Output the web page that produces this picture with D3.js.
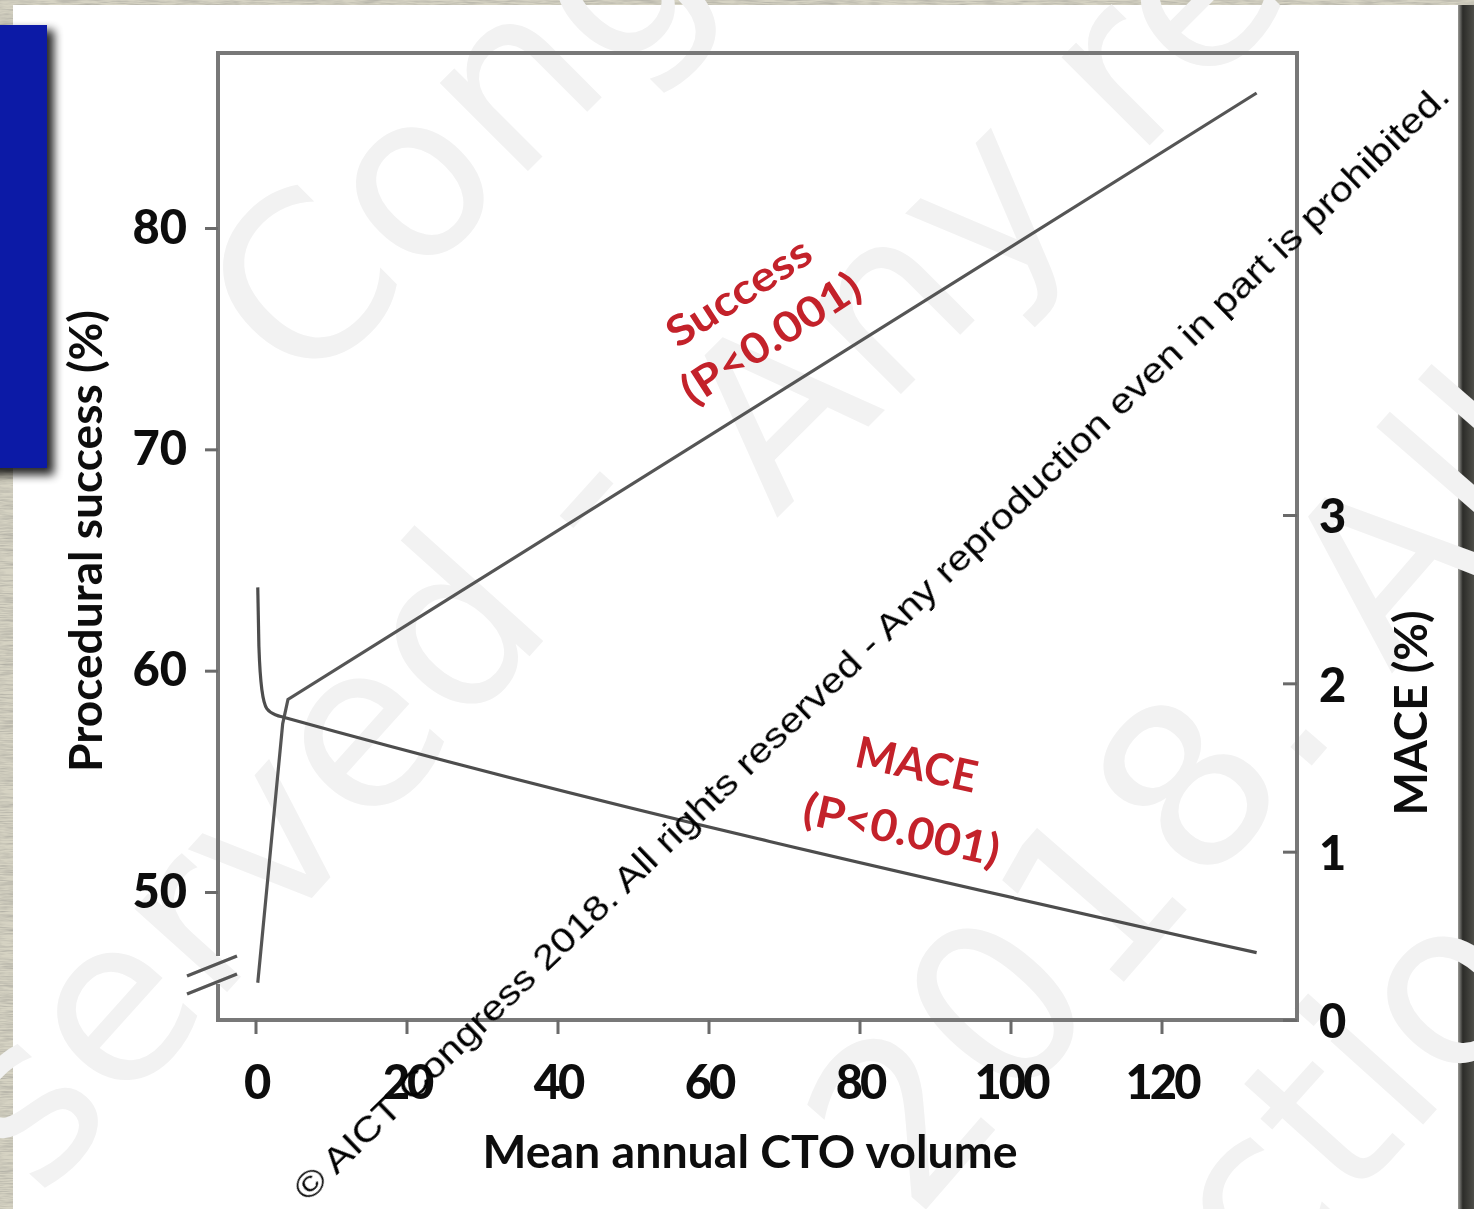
<!DOCTYPE html>
<html><head><meta charset="utf-8">
<script src="https://cdn.jsdelivr.net/npm/d3@7"></script>
<style>html,body{margin:0;padding:0;overflow:hidden;background:#d5d2c2}</style>
</head><body>
<svg id="c" width="1474" height="1209" xmlns="http://www.w3.org/2000/svg"></svg>
<script>
// ---- data ----
const successX = [0.3, 3.6, 4.3, 132.6];
const successY = [45.9, 57.6, 58.7, 86.1];
const maceX = [0.3, 0.45, 0.85, 1.5, 2.8, 3.6, 132.6];
const maceY = [2.57, 2.22, 1.96, 1.85, 1.81, 1.80, 0.40];
const xTicks = [0, 20, 40, 60, 80, 100, 120];
const leftTicks = [50, 60, 70, 80];
const rightTicks = [0, 1, 2, 3];
const xTitle = "Mean annual CTO volume";
const leftTitle = "Procedural success (%)";
const rightTitle = "MACE (%)";
const successLabel = ["Success", "(P<0.001)"];
const maceLabel = ["MACE", "(P<0.001)"];
const notice = "\u00A9 AICT Congress 2018. All rights reserved - Any reproduction even in part is prohibited.";
const bigMarks = [
  {t: "Cong", x: 302, y: 397, a: -45},
  {t: "served -", x: 40, y: 1200, a: -48},
  {t: "Any re", x: 776, y: 519, a: -45},
  {t: "2018. All", x: 915, y: 1222, a: -49},
  {t: "ctio", x: 1265, y: 1300, a: -48}
];

const svg = d3.select("#c");
const defs = svg.append("defs");
const tex = defs.append("filter").attr("id", "tex").attr("x", 0).attr("y", 0).attr("width", 1).attr("height", 1);
tex.append("feTurbulence").attr("type", "fractalNoise").attr("baseFrequency", "0.05 0.7").attr("numOctaves", 3).attr("seed", 4);
tex.append("feColorMatrix").attr("type", "matrix")
  .attr("values", "0 0 0 0 0.42  0 0 0 0 0.41  0 0 0 0 0.36  1.6 0 0 0 -0.55");
const blur = defs.append("filter").attr("id", "soft");
blur.append("feGaussianBlur").attr("stdDeviation", 0.7);
const sh = defs.append("filter").attr("id", "shadow").attr("x", -0.5).attr("y", -0.5).attr("width", 2).attr("height", 2);
sh.append("feGaussianBlur").attr("stdDeviation", 5);
const rg = defs.append("linearGradient").attr("id", "redge").attr("x1", 0).attr("x2", 1);
rg.append("stop").attr("offset", 0).attr("stop-color", "#9a9a96");
rg.append("stop").attr("offset", 0.3).attr("stop-color", "#2c2c29");
rg.append("stop").attr("offset", 1).attr("stop-color", "#4d4d48");

// background texture
svg.append("rect").attr("width", 1474).attr("height", 1209).attr("fill", "#d6d3c3");
svg.append("rect").attr("width", 1474).attr("height", 1209).attr("filter", "url(#tex)");
// white card
svg.append("rect").attr("x", 13).attr("y", 5).attr("width", 1449).attr("height", 1204).attr("fill", "#ffffff");
svg.append("rect").attr("x", 1458).attr("y", 5).attr("width", 16).attr("height", 1204).attr("fill", "url(#redge)");

// big faint watermark
const wm = svg.append("g").attr("font-family", "'DejaVu Sans', Verdana, sans-serif")
  .attr("font-size", 228).attr("fill", "#f2f2f2");
bigMarks.forEach(m => {
  wm.append("text").attr("x", m.x).attr("y", m.y)
    .attr("transform", `rotate(${m.a} ${m.x} ${m.y})`).text(m.t);
});

// blue box
svg.append("rect").attr("x", -10).attr("y", 30).attr("width", 64).attr("height", 445)
  .attr("fill", "#000").attr("opacity", 0.85).attr("filter", "url(#shadow)");
svg.append("rect").attr("x", -5).attr("y", 25).attr("width", 52).attr("height", 443).attr("fill", "#0c1aa6");

// ---- chart ----
const x = d3.scaleLinear().domain([0, 120]).range([255.5, 1161.5]);
const yL = d3.scaleLinear().domain([50, 80]).range([892, 228]);
const yR = d3.scaleLinear().domain([0, 3]).range([1020, 515]);
const L = 218, R = 1297, T = 53, B = 1020;

const g = svg.append("g").attr("filter", "url(#soft)");
const frameCol = "#787878";
// frame with break on left
g.append("path").attr("fill", "none").attr("stroke", frameCol).attr("stroke-width", 4)
  .attr("d", `M${L},956 L${L},${T} L${R},${T} L${R},${B} L${L},${B} L${L},984`);
// break marks
g.append("path").attr("fill", "none").attr("stroke", "#555").attr("stroke-width", 3.5)
  .attr("d", `M187,976 L237,956 M187,994 L237,974`);

const font = "Lato, 'Open Sans', sans-serif";
const axB = g.append("g").attr("transform", `translate(0,${B})`)
  .call(d3.axisBottom(x).tickValues(xTicks).tickSize(14).tickPadding(32).tickFormat(d3.format("d")));
const axL = g.append("g").attr("transform", `translate(${L},0)`)
  .call(d3.axisLeft(yL).tickValues(leftTicks).tickSize(13).tickPadding(18).tickFormat(d3.format("d")));
const axR = g.append("g").attr("transform", `translate(${R},0)`)
  .call(d3.axisRight(yR).tickValues(rightTicks).tickSizeInner(-14).tickSizeOuter(0).tickPadding(22).tickFormat(d3.format("d")));
[axB, axL, axR].forEach(a => {
  a.select(".domain").remove();
  a.selectAll(".tick line").attr("stroke", "#6a6a6a").attr("stroke-width", 3);
  a.selectAll(".tick text").attr("fill", "#111").attr("font-family", font)
    .attr("font-weight", 900).attr("font-size", 47);
});
axB.selectAll(".tick text").attr("letter-spacing", -3);
axR.selectAll(".tick text").attr("dy", "0.38em");

// lines
const lineL = d3.line().x(d => x(d[0])).y(d => yL(d[1]));
const lineR = d3.line().x(d => x(d[0])).y(d => yR(d[1])).curve(d3.curveMonotoneX);
g.append("path").datum(successX.map((v, i) => [v, successY[i]]))
  .attr("d", lineL).attr("fill", "none").attr("stroke", "#555").attr("stroke-width", 3.2);
g.append("path").datum(maceX.map((v, i) => [v, maceY[i]]))
  .attr("d", lineR).attr("fill", "none").attr("stroke", "#4d4d4d").attr("stroke-width", 3.2);

// axis titles
g.append("text").attr("x", 750).attr("y", 1168).attr("text-anchor", "middle")
  .attr("font-family", font).attr("font-weight", 700).attr("font-size", 46).attr("fill", "#111")
  .attr("textLength", 535).attr("lengthAdjust", "spacingAndGlyphs").text(xTitle);
g.append("text").attr("transform", "translate(102,541) rotate(-90)").attr("text-anchor", "middle")
  .attr("font-family", font).attr("font-weight", 700).attr("font-size", 46).attr("fill", "#111")
  .attr("textLength", 462).attr("lengthAdjust", "spacingAndGlyphs").text(leftTitle);
g.append("text").attr("transform", "translate(1427,713) rotate(-90)").attr("text-anchor", "middle")
  .attr("font-family", font).attr("font-weight", 700).attr("font-size", 46).attr("fill", "#111")
  .attr("textLength", 205).attr("lengthAdjust", "spacingAndGlyphs").text(rightTitle);

// annotations
const red = "#c3202b";
function label(lines, centers, angle, size, lens) {
  lines.forEach((t, i) => {
    g.append("text").attr("transform", `translate(${centers[i][0]},${centers[i][1]}) rotate(${angle})`)
      .attr("text-anchor", "middle").attr("dominant-baseline", "central")
      .attr("font-family", font).attr("font-weight", 700).attr("font-size", size).attr("fill", red)
      .attr("textLength", lens[i]).attr("lengthAdjust", "spacingAndGlyphs").text(t);
  });
}
label(successLabel, [[738, 291], [770, 337]], -33, 42, [164, 205]);
label(maceLabel, [[917, 763], [902, 828]], 12.5, 44, [123, 200]);

// small notice watermark
svg.append("text").attr("x", 0).attr("y", 0)
  .attr("transform", "translate(308,1203) rotate(-44)")
  .attr("font-family", "Liberation Sans, Arial, sans-serif").attr("font-size", 35).attr("fill", "#000")
  .attr("textLength", 1590).attr("lengthAdjust", "spacingAndGlyphs").text(notice);
</script>
</body></html>
